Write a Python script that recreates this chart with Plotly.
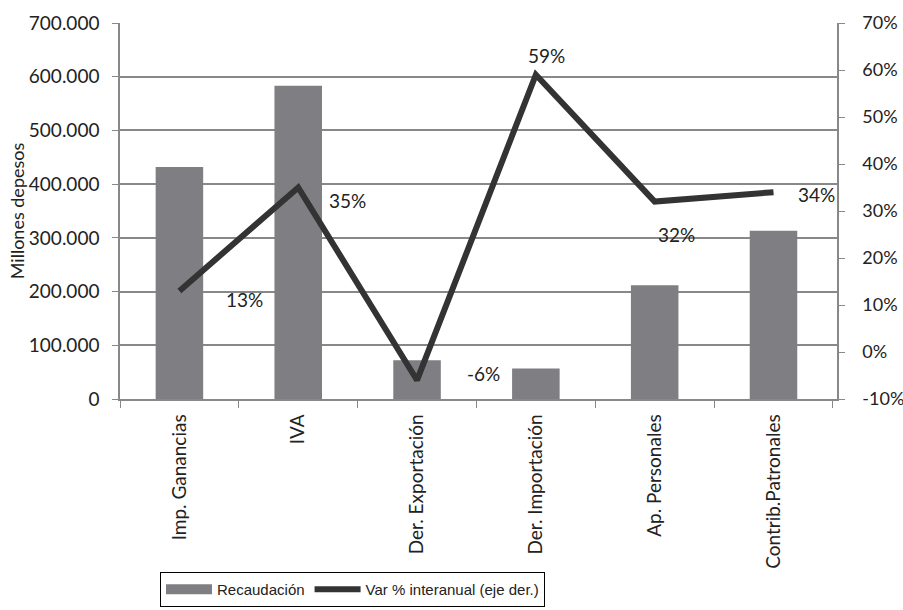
import plotly.graph_objects as go

categorias = ["Imp. Ganancias", "IVA", "Der. Exportación", "Der. Importación",
              "Ap. Personales", "Contrib.Patronales"]
recaudacion = [432000, 583000, 72000, 57000, 212000, 313000]
var_interanual = [13, 35, -6, 59, 32, 34]

# Right-axis ticks (hyphen minus, as in the printed labels)
pct_ticks = [-10, 0, 10, 20, 30, 40, 50, 60, 70]
pct_labels = ["-10%", "0%", "10%", "20%", "30%", "40%", "50%", "60%", "70%"]

# Pixel offsets of each percentage label relative to its line point
label_dx = [65, 49, 66, 11, 22, 43]
label_dy = [-9, -13, 7, 19, -33, -2]

FONT = "Lato, Open Sans, sans-serif"
GRID = "#888888"
BAR = "#7f7f83"
LINE = "#333333"
FS = 19
LEG_FONT = "Liberation Sans Narrow, Arial Narrow, sans-serif"

fig = go.Figure()
fig.add_trace(go.Bar(
    x=categorias, y=recaudacion, name="Recaudación",
    marker=dict(color=BAR, line=dict(width=0)),
    width=0.4, showlegend=False,
))
# Legend key for the bars, drawn as a wide flat swatch
fig.add_trace(go.Scatter(
    x=[None], y=[None], name="Recaudación", mode="lines",
    line=dict(color=BAR, width=11),
))
fig.add_trace(go.Scatter(
    x=categorias, y=var_interanual, name="Var % interanual (eje der.)",
    mode="lines", line=dict(color=LINE, width=6),
    yaxis="y2",
))

for c, v, dx, dy in zip(categorias, var_interanual, label_dx, label_dy):
    fig.add_annotation(
        x=c, y=v, yref="y2", text=f"{v}%", showarrow=False,
        xshift=dx, yshift=dy, font=dict(family=FONT, size=FS, color="#222222"),
    )

fig.update_layout(
    width=903, height=610,
    margin=dict(l=120, r=66, t=23, b=211, autoexpand=False),
    paper_bgcolor="white", plot_bgcolor="white",
    separators=",.",
    font=dict(family=FONT, size=FS, color="#222222"),
    showlegend=True,
    xaxis=dict(
        showline=True, linecolor=GRID, linewidth=1.5,
        ticks="outside", tickson="boundaries", ticklen=7, tickcolor=GRID,
        tickangle=-90, tickfont=dict(size=FS), ticklabelstandoff=6,
        showgrid=False, automargin=False,
    ),
    yaxis=dict(
        range=[0, 700000], dtick=100000, tickformat=",.0f",
        showline=True, linecolor=GRID, linewidth=1.5,
        ticks="outside", ticklen=6, tickcolor=GRID, ticklabelstandoff=9,
        showgrid=True, gridcolor=GRID, gridwidth=1.5,
        zeroline=False, automargin=False,
        title=dict(text="Millones depesos", font=dict(size=18), standoff=0),
        tickfont=dict(size=FS),
    ),
    yaxis2=dict(
        range=[-10, 70], tickvals=pct_ticks, ticktext=pct_labels,
        overlaying="y", side="right",
        showline=True, linecolor=GRID, linewidth=1.5,
        ticks="outside", ticklen=6, tickcolor=GRID, ticklabelstandoff=14,
        showgrid=False, zeroline=False, automargin=False,
        tickfont=dict(size=18),
    ),
    legend=dict(
        orientation="h", x=0.0558, y=-0.46, xanchor="left", yanchor="top",
        bordercolor="#000000", borderwidth=1,
        font=dict(family=LEG_FONT, size=15),
        itemwidth=46,
    ),
)

fig.write_html("out.html")
